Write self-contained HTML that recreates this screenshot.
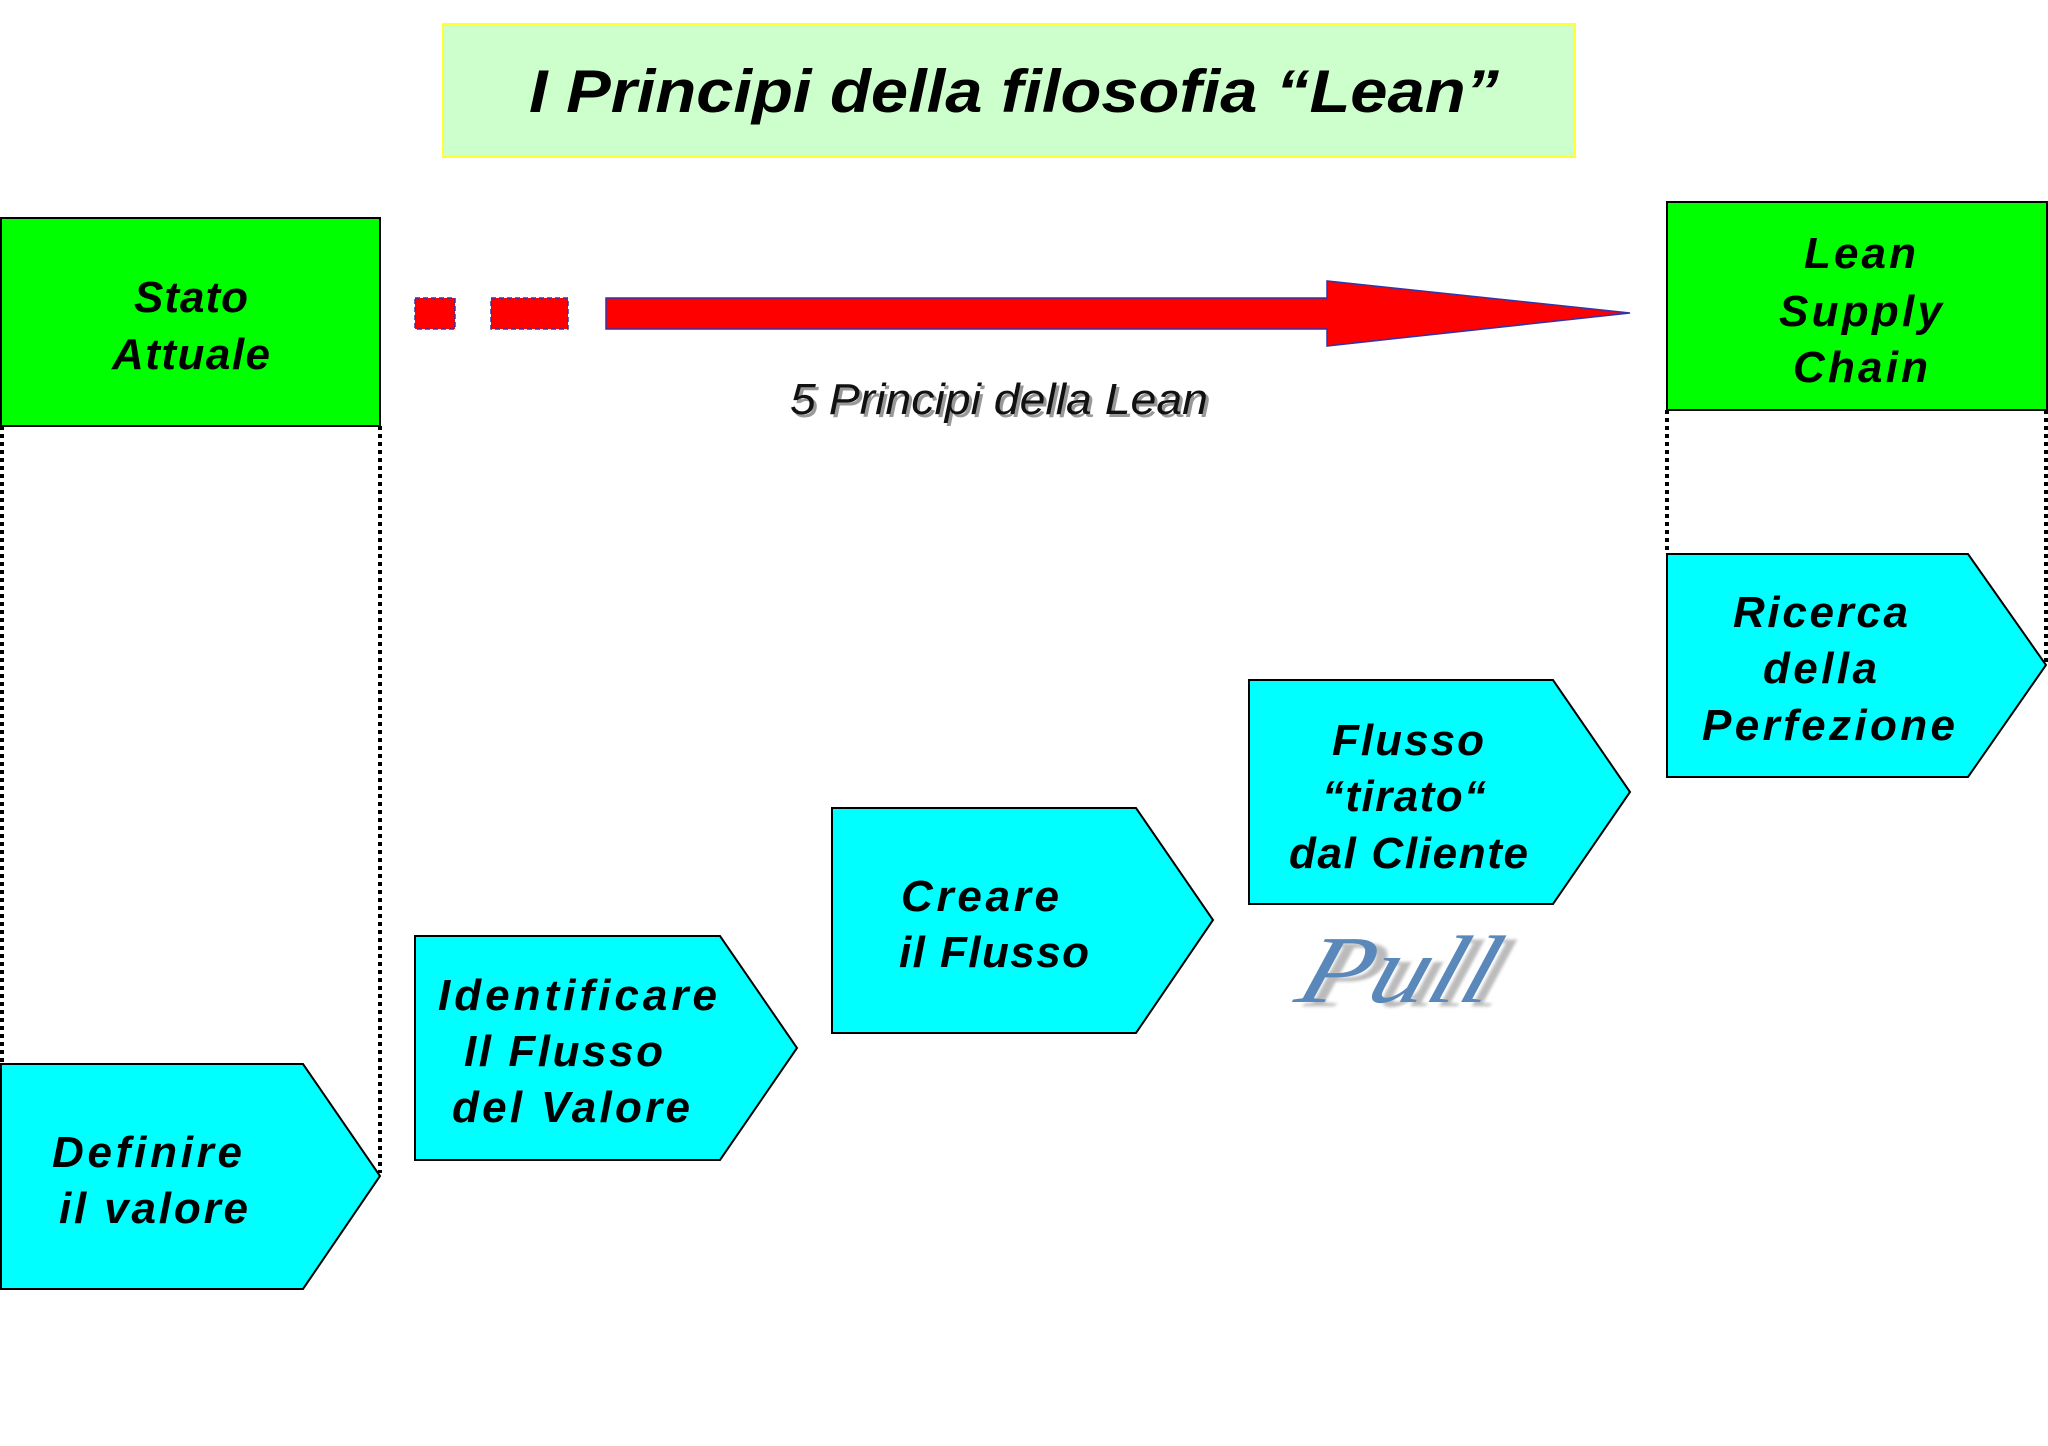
<!DOCTYPE html>
<html><head><meta charset="utf-8"><style>html,body{margin:0;padding:0;background:#fff}svg{display:block}</style></head>
<body>
<svg width="2048" height="1446" viewBox="0 0 2048 1446" xmlns="http://www.w3.org/2000/svg">
<defs><filter id="b" x="-10%" y="-10%" width="120%" height="120%"><feGaussianBlur stdDeviation="1.5"/></filter></defs>
<rect x="0" y="0" width="2048" height="1446" fill="#fff"/>
<rect x="443" y="24" width="1132" height="133" fill="#ccffcc" stroke="#ffff33" stroke-width="2"/>
<text x="529" y="112" font-family="Liberation Sans, sans-serif" font-weight="bold" font-style="italic" font-size="60" textLength="970" lengthAdjust="spacingAndGlyphs">I Principi della filosofia “Lean”</text>

<g stroke="#000" stroke-width="4" stroke-dasharray="4,4" fill="none">
<line x1="2" y1="426" x2="2" y2="1064"/>
<line x1="380" y1="426" x2="380" y2="1173"/>
<line x1="1667" y1="410" x2="1667" y2="554"/>
<line x1="2046" y1="410" x2="2046" y2="666"/>
</g>

<rect x="1" y="218" width="379" height="208" fill="#00ff00" stroke="#000" stroke-width="2"/>
<rect x="1667" y="202" width="380" height="208" fill="#00ff00" stroke="#000" stroke-width="2"/>

<g fill="#00ffff" stroke="#000" stroke-width="2">
<polygon points="1,1064 303,1064 380,1176 303,1289 1,1289"/>
<polygon points="415,936 720,936 797,1048 720,1160 415,1160"/>
<polygon points="832,808 1136,808 1213,920 1136,1033 832,1033"/>
<polygon points="1249,680 1553,680 1630,792 1553,904 1249,904"/>
<polygon points="1667,554 1968,554 2046,665 1968,777 1667,777"/>
</g>

<g fill="#ff0000" stroke="#3333aa" stroke-width="1.5">
<rect x="415" y="298" width="40" height="31" stroke-dasharray="5,3"/>
<rect x="491" y="298" width="77" height="31" stroke-dasharray="5,3"/>
<polygon points="606,298 1327,298 1327,281 1630,313 1327,346 1327,329 606,329"/>
</g>

<text x="793" y="417" font-family="Liberation Sans, sans-serif" font-style="italic" font-size="44" fill="#999" textLength="418" lengthAdjust="spacingAndGlyphs">5 Principi della Lean</text>
<text x="790" y="414" font-family="Liberation Sans, sans-serif" font-style="italic" font-size="44" fill="#111" textLength="418" lengthAdjust="spacingAndGlyphs">5 Principi della Lean</text>

<g font-family="Liberation Sans, sans-serif" font-weight="bold" font-style="italic" font-size="44" fill="#000" lengthAdjust="spacingAndGlyphs">
<text x="134" y="312" textLength="114">Stato</text>
<text x="112" y="369" textLength="158">Attuale</text>
<text x="1804" y="268" textLength="112">Lean</text>
<text x="1779" y="326" textLength="163">Supply</text>
<text x="1793" y="382" textLength="135">Chain</text>
<text x="52" y="1167" textLength="190">Definire</text>
<text x="59" y="1223" textLength="189">il valore</text>
<text x="438" y="1010" textLength="279">Identificare</text>
<text x="464" y="1066" textLength="199">Il Flusso</text>
<text x="452" y="1122" textLength="238">del Valore</text>
<text x="901" y="911" textLength="158">Creare</text>
<text x="899" y="967" textLength="190">il Flusso</text>
<text x="1332" y="755" textLength="152">Flusso</text>
<text x="1322" y="811" textLength="164">“tirato“</text>
<text x="1289" y="868" textLength="239">dal Cliente</text>
<text x="1733" y="627" textLength="175">Ricerca</text>
<text x="1763" y="683" textLength="114">della</text>
<text x="1702" y="740" textLength="253">Perfezione</text>
</g>

<g font-family="Liberation Serif, serif" font-style="italic" font-size="96">
<text x="1305" y="1006" fill="#bbb" textLength="195" lengthAdjust="spacingAndGlyphs" transform="skewX(-18) translate(325,0)" filter="url(#b)">Pull</text>
<text x="1293" y="1002" fill="#5b88bb" textLength="195" lengthAdjust="spacingAndGlyphs" transform="skewX(-18) translate(325,0)">Pull</text>
</g>
</svg>
</body></html>
